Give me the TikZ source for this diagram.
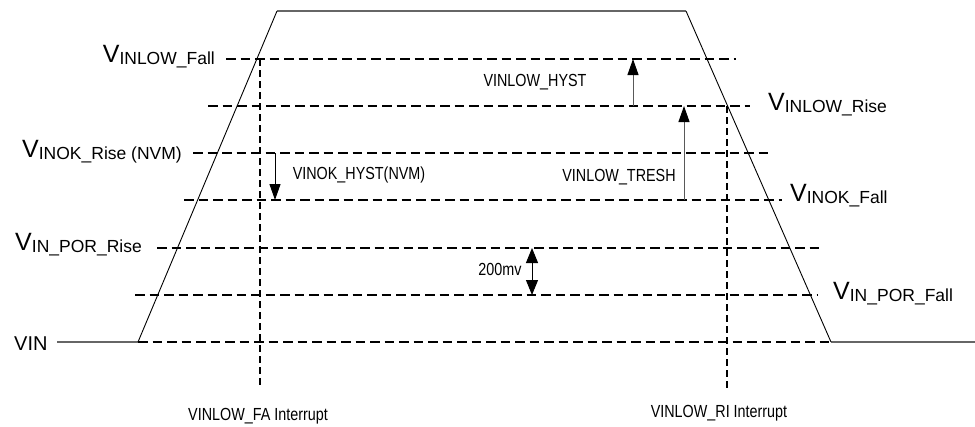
\documentclass[tikz,border=0pt]{standalone}
\usepackage{fontspec}
\setmainfont{Liberation Sans}
\newfontfamily\narrowfont[FakeStretch=0.82]{Liberation Sans}
\usetikzlibrary{arrows.meta}
\newcommand\vlab[1]{{\fontsize{25}{25}\selectfont V}\raisebox{-2pt}{\fontsize{17.5}{17.5}\selectfont #1}}
\begin{document}
\begin{tikzpicture}[x=1pt,y=-1pt,
  level/.style={line width=2.8pt, dash pattern=on 9.5pt off 5pt},
  vguide/.style={line width=1.4pt, dash pattern=on 7pt off 4pt},
  sig/.style={line width=0.9pt, black},
  flat/.style={line width=1.1pt, black!60},
  arr/.style={line width=1pt, -{Triangle[width=11pt,length=16pt,color=black]}},
  darr/.style={line width=1pt, {Triangle[width=12pt,length=15pt]}-{Triangle[width=12pt,length=15pt]}},
  small/.style={inner sep=0pt, font=\narrowfont\fontsize{17.5}{17.5}\selectfont},
  biglab/.style={inner sep=0pt}]
\useasboundingbox (0,0) rectangle (975,426);

% trapezoid signal
\coordinate (bl) at (138,342);
\coordinate (tl) at (277,11);
\coordinate (tr) at (686,11);
\coordinate (br) at (831,342);
\coordinate (vinl) at (57,342);
\coordinate (vinr) at (975,342);
\draw[flat] (vinl) -- (bl);
\draw[flat] (br) -- (vinr);
\draw[flat] (tl) -- (tr);
\draw[sig] (bl) -- (tl);
\draw[sig] (tr) -- (br);

% level lines
\coordinate (a1) at (226,59);  \coordinate (a2) at (736,59);
\coordinate (b1) at (208,106); \coordinate (b2) at (750,106);
\coordinate (c1) at (193,153); \coordinate (c2) at (770,153);
\coordinate (d1) at (184,200); \coordinate (d2) at (782,200);
\coordinate (e1) at (157,248); \coordinate (e2) at (820,248);
\coordinate (f1) at (135,295); \coordinate (f2) at (818,295);
\coordinate (g1) at (138,342); \coordinate (g2) at (831,342);
\draw[level] (a1) -- (a2);
\draw[level] (b1) -- (b2);
\draw[level] (c1) -- (c2);
\draw[level] (d1) -- (d2);
\draw[level] (e1) -- (e2);
\draw[level] (f1) -- (f2);
\draw[level] (g1) -- (g2);

% vertical guides
\coordinate (l1) at (260,59);  \coordinate (l2) at (260,388);
\coordinate (r1) at (727,106); \coordinate (r2) at (727,388);
\draw[vguide] (l1) -- (l2);
\draw[vguide] (r1) -- (r2);

% arrows
\coordinate (h1) at (633,106); \coordinate (h2) at (633,59);
\coordinate (t1) at (684,200); \coordinate (t2) at (684,106);
\coordinate (k1) at (275,153); \coordinate (k2) at (275,200);
\coordinate (p1) at (532,248); \coordinate (p2) at (532,295);
\draw[arr, black!65] (h1) -- (h2);
\draw[arr, black!65] (t1) -- (t2);
\draw[arr] (k1) -- (k2);
\draw[darr] (p1) -- (p2);

% level labels
\node[biglab, anchor=base east] (lab1) at (215,62) {\vlab{INLOW\_Fall}};
\node[biglab, anchor=base west] (lab2) at (768,110) {\vlab{INLOW\_Rise}};
\node[biglab, anchor=base east] (lab3) at (182,157) {\vlab{INOK\_Rise (NVM)}};
\node[biglab, anchor=base west] (lab4) at (790,201) {\vlab{INOK\_Fall}};
\node[biglab, anchor=base east] (lab5) at (142,250) {\vlab{IN\_POR\_Rise}};
\node[biglab, anchor=base west] (lab6) at (833,299) {\vlab{IN\_POR\_Fall}};
\node[biglab, anchor=base west, font=\fontsize{20}{20}\selectfont] (lab7) at (14,350) {VIN};

% annotation labels
\node[small] (s1) at (535,82) {VINLOW\_HYST};
\node[small] (s2) at (359,175) {VINOK\_HYST(NVM)};
\node[small] (s3) at (619,177) {VINLOW\_TRESH};
\node[small] (s4) at (500,269) {200mv};
\node[small] (s5) at (258,416) {VINLOW\_FA Interrupt};
\node[small] (s6) at (719,413) {VINLOW\_RI Interrupt};
\end{tikzpicture}
\end{document}
